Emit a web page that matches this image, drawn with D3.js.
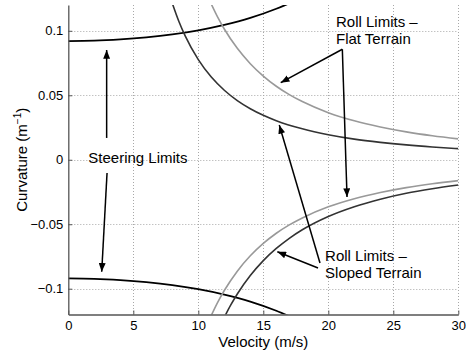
<!DOCTYPE html>
<html><head><meta charset="utf-8">
<script src="https://cdn.jsdelivr.net/npm/d3@7"></script>
<style>
html,body{margin:0;padding:0;background:#fff;}
svg{display:block;font-family:"Liberation Sans",Arial,Helvetica,sans-serif;}
</style></head>
<body>
<script>
// ---- data ----
const xTicks = [0, 5, 10, 15, 20, 25, 30];
const yTicks = [-0.1, -0.05, 0, 0.05, 0.1];
const yTickLabels = ["\u22120.1", "\u22120.05", "0", "0.05", "0.1"];

const steerV = [0, 2, 4, 6, 8, 10, 12, 14, 16, 17];
const steerUpper = [0.092, 0.0923, 0.0933, 0.0949, 0.0972, 0.1004, 0.1046, 0.1100, 0.1171, 0.1213];
const steerLower = [-0.092, -0.0923, -0.0933, -0.0949, -0.0972, -0.1004, -0.1046, -0.1100, -0.1171, -0.1213];

const flatV = [11, 11.5, 12, 13, 14, 15, 16, 17, 18, 20, 22, 24, 26, 28, 30];
const flatUpper = [0.1207, 0.1104, 0.1014, 0.0864, 0.0745, 0.0649, 0.0570, 0.0505, 0.0451, 0.0365, 0.0302, 0.0254, 0.0216, 0.0186, 0.0162];
const flatLower = [-0.1207, -0.1104, -0.1014, -0.0864, -0.0745, -0.0649, -0.0570, -0.0505, -0.0451, -0.0365, -0.0302, -0.0254, -0.0216, -0.0186, -0.0162];

const slopedUpperV = [8, 8.5, 9, 10, 11, 12, 13, 14, 15, 16, 18, 20, 22, 24, 26, 28, 30];
const slopedUpper = [0.1213, 0.1074, 0.0958, 0.0776, 0.0641, 0.0539, 0.0459, 0.0396, 0.0345, 0.0303, 0.0240, 0.0194, 0.0160, 0.0135, 0.0115, 0.0099, 0.0086];
const slopedLowerV = [12, 12.5, 13, 14, 15, 16, 17, 18, 20, 22, 24, 26, 28, 30];
const slopedLower = [-0.1222, -0.1126, -0.1041, -0.0898, -0.0782, -0.0688, -0.0609, -0.0543, -0.0440, -0.0364, -0.0306, -0.0260, -0.0225, -0.0196];

// annotations (data coordinates)
const arrows = [
  {x1: 2.95, y1: 0.0169, x2: 2.95, y2: 0.0851},
  {x1: 2.98, y1: -0.0103, x2: 2.57, y2: -0.0868},
  {x1: 21.08, y1: 0.0857, x2: 16.34, y2: 0.0598},
  {x1: 21.08, y1: 0.0857, x2: 21.44, y2: -0.0289},
  {x1: 19.36, y1: -0.0801, x2: 16.23, y2: 0.0270},
  {x1: 19.21, y1: -0.0839, x2: 16.08, y2: -0.0713}
];
const labels = [
  {x: 20.59, y: 0.1032, lines: ["Roll Limits \u2013", "Flat Terrain"]},
  {x: 1.54, y: -0.0029, lines: ["Steering Limits"]},
  {x: 19.75, y: -0.0783, lines: ["Roll Limits \u2013", "Sloped Terrain"]}
];

// ---- layout ----
const W = 466, H = 352;
const L = 68.3, R = 458.3, T = 5, B = 314.5;

const svg = d3.select("body").append("svg").attr("width", W).attr("height", H);
const x = d3.scaleLinear().domain([0, 30]).range([L, R]);
const y = d3.scaleLinear().domain([-0.12, 0.12]).range([B, T]);

// grid
const grid = svg.append("g").attr("stroke", "#a8a8a8").attr("stroke-width", 1).attr("stroke-dasharray", "1,2");
grid.selectAll("line.vx").data(xTicks.filter(d => d > 0)).join("line")
  .attr("x1", d => Math.round(x(d)) + 0.5).attr("x2", d => Math.round(x(d)) + 0.5)
  .attr("y1", T).attr("y2", B);
grid.selectAll("line.hy").data(yTicks).join("line")
  .attr("x1", L).attr("x2", R)
  .attr("y1", d => Math.round(y(d)) + 0.5).attr("y2", d => Math.round(y(d)) + 0.5);

// clip
svg.append("clipPath").attr("id", "clip").append("rect")
  .attr("x", L).attr("y", T).attr("width", R - L).attr("height", B - T);

const line = d3.line().x(d => x(d[0])).y(d => y(d[1])).curve(d3.curveMonotoneX);
const series = [
  {v: steerV, k: steerUpper, c: "#000000", w: 1.8},
  {v: steerV, k: steerLower, c: "#000000", w: 1.8},
  {v: flatV, k: flatUpper, c: "#999999", w: 1.6},
  {v: flatV, k: flatLower, c: "#999999", w: 1.6},
  {v: slopedUpperV, k: slopedUpper, c: "#333333", w: 1.6},
  {v: slopedLowerV, k: slopedLower, c: "#333333", w: 1.6}
];
const plot = svg.append("g").attr("clip-path", "url(#clip)");
plot.selectAll("path").data(series).join("path")
  .attr("fill", "none").attr("stroke", d => d.c).attr("stroke-width", d => d.w)
  .attr("d", d => line(d.v.map((v, i) => [v, d.k[i]])));

// axes
const xAxis = d3.axisBottom(x).tickValues(xTicks).tickSizeInner(-4).tickSizeOuter(0).tickPadding(6);
const gx = svg.append("g").attr("transform", `translate(0,${B})`).call(xAxis);
const yAxis = d3.axisLeft(y).tickValues(yTicks).tickFormat((d, i) => yTickLabels[i]).tickSizeInner(-4).tickSizeOuter(0).tickPadding(5);
const gy = svg.append("g").attr("transform", `translate(${L},0)`).call(yAxis);
[gx, gy].forEach(g => {
  g.select(".domain").attr("stroke", "#555").attr("stroke-width", 1.3);
  g.selectAll(".tick line").attr("stroke", "#555").attr("stroke-width", 1);
  g.selectAll(".tick text").attr("fill", "#000").style("font-size", "13px")
    .style("font-family", '"Liberation Sans",Arial,Helvetica,sans-serif');
});
gx.selectAll(".tick text").attr("dy", "0.71em");

// axis labels
svg.append("text").attr("x", (L + R) / 2).attr("y", 347).attr("text-anchor", "middle")
  .style("font-size", "15px").text("Velocity (m/s)");
const yl = svg.append("text").attr("transform", `translate(26.5,${(T + B) / 2}) rotate(-90)`)
  .attr("text-anchor", "middle").style("font-size", "15px");
yl.append("tspan").text("Curvature (m");
yl.append("tspan").attr("dy", -6).style("font-size", "10px").text("\u22121");
yl.append("tspan").attr("dy", 6).text(")");

// arrows
const defs = svg.append("defs");
defs.append("marker").attr("id", "ah").attr("viewBox", "0 0 10 8").attr("refX", 10).attr("refY", 4)
  .attr("markerWidth", 9).attr("markerHeight", 7).attr("markerUnits", "userSpaceOnUse").attr("orient", "auto")
  .append("path").attr("d", "M0,0 L10,4 L0,8 Z").attr("fill", "#000");
svg.append("g").selectAll("line").data(arrows).join("line")
  .attr("x1", d => x(d.x1)).attr("y1", d => y(d.y1))
  .attr("x2", d => x(d.x2)).attr("y2", d => y(d.y2))
  .attr("stroke", "#000").attr("stroke-width", 1.5).attr("marker-end", "url(#ah)");

// labels
const lg = svg.append("g").style("font-size", "15px").attr("fill", "#000");
labels.forEach(lb => {
  const t = lg.append("text").attr("x", x(lb.x)).attr("y", y(lb.y));
  lb.lines.forEach((s, i) => t.append("tspan").attr("x", x(lb.x)).attr("dy", i === 0 ? 0 : 17.5).text(s));
});
</script>
</body></html>
